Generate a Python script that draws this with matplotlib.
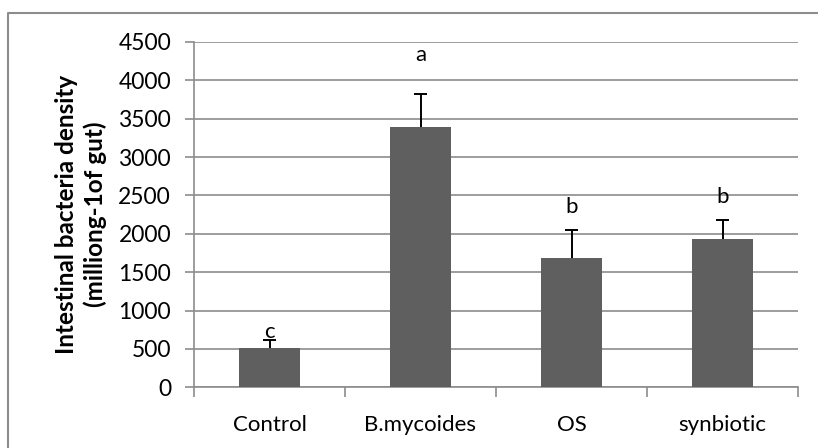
import numpy as np
import matplotlib.pyplot as plt
from matplotlib.lines import Line2D

# data
groups   = ["Control", "B.mycoides", "OS", "synbiotic"]
means    = [515, 3390, 1680, 1935]
errors   = [95, 435, 365, 250]
letters  = ["c", "a", "b", "b"]
letter_y = [725, 4335, 2355, 2475]

BAR_COLOUR  = "#5f5f5f"
GRID_COLOUR = "#8c8c8c"

plt.rcParams["font.family"] = ["Lato", "DejaVu Sans"]

W, H = 818, 448
fig = plt.figure(figsize=(W / 100, H / 100), dpi=100)
ax = fig.add_axes([194 / W, (H - 387.3) / H, 604 / W, 345.3 / H])

x = np.arange(len(groups))
ax.bar(x, means, width=0.4, color=BAR_COLOUR, zorder=3)

# upper-only error bars
tops = np.array(means) + np.array(errors)
ax.vlines(x, means, tops, color="black", linewidth=1.4, zorder=4)
ax.hlines(tops, x - 0.045, x + 0.045, color="black", linewidth=1.4, zorder=4)

for xi, lab, ly in zip(x, letters, letter_y):
    ax.text(xi, ly, lab, ha="center", va="center", fontsize=16)

ax.set_xlim(-0.5, len(groups) - 0.5)
ax.set_ylim(0, 4500)
ax.set_yticks(np.arange(0, 4501, 500))
ax.yaxis.grid(True, color=GRID_COLOUR, linewidth=1.2, zorder=0)
ax.set_axisbelow(True)

ax.set_xticks(x)
ax.set_xticklabels(groups, fontsize=16)
ax.set_xticks(np.arange(-0.5, len(groups)), minor=True)
ax.tick_params(axis="x", which="major", length=0, pad=20)
ax.tick_params(axis="x", which="minor", length=7, color=GRID_COLOUR, width=1.2)
ax.tick_params(axis="y", length=6.5, color=GRID_COLOUR, width=1.2, labelsize=16.5, pad=10)

for s in ["top", "right"]:
    ax.spines[s].set_visible(False)
for s in ["left", "bottom"]:
    ax.spines[s].set_color(GRID_COLOUR)
    ax.spines[s].set_linewidth(1.2)

ax.set_ylabel("Intestinal bacteria density\n(milliong-1of gut)",
              fontsize=17.5, fontweight="bold", labelpad=8, linespacing=1.3)

# chart border (only top and left visible in the crop)
fig.lines.append(Line2D([8 / W, 8 / W, 1.0], [0.0, 1 - 13 / H, 1 - 13 / H],
                        transform=fig.transFigure, color="#8c8c8c", linewidth=1.5))

plt.savefig("out.png", dpi=100)
plt.close()
